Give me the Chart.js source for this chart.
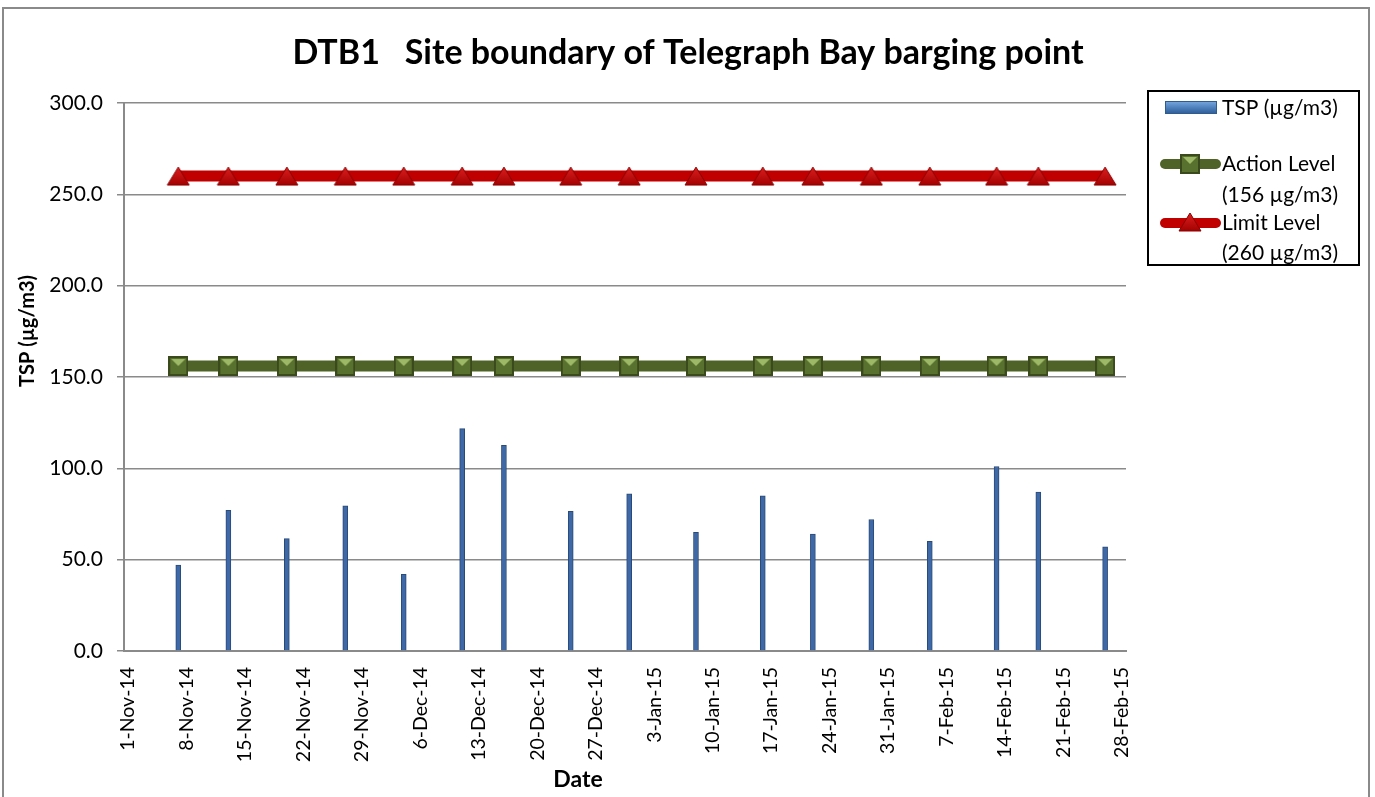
<!DOCTYPE html>
<html>
<head>
<meta charset="utf-8">
<script src="https://cdn.jsdelivr.net/npm/chart.js@4/dist/chart.umd.min.js"></script>
<style>
  html, body { margin: 0; padding: 0; background: #fff; }
  #wrap { width: 1375px; height: 797px; position: relative; }
</style>
</head>
<body>
<div id="wrap"><canvas id="myChart" width="1375" height="797"></canvas></div>
<script>
// sampling dates and TSP readings
var dates = ['2014-11-07','2014-11-13','2014-11-20','2014-11-27','2014-12-04','2014-12-11','2014-12-16',
  '2014-12-24','2014-12-31','2015-01-08','2015-01-16','2015-01-22','2015-01-29','2015-02-05',
  '2015-02-13','2015-02-18','2015-02-26'];
var tsp = [47, 77, 61.5, 79.5, 42, 121.7, 112.6, 76.5, 86, 65, 85, 64, 72, 60, 101, 87, 57];
var actionLevel = [156,156,156,156,156,156,156,156,156,156,156,156,156,156,156,156,156];
var limitLevel = [260,260,260,260,260,260,260,260,260,260,260,260,260,260,260,260,260];
var tickLabels = ['1-Nov-14','8-Nov-14','15-Nov-14','22-Nov-14','29-Nov-14','6-Dec-14','13-Dec-14',
  '20-Dec-14','27-Dec-14','3-Jan-15','10-Jan-15','17-Jan-15','24-Jan-15','31-Jan-15','7-Feb-15',
  '14-Feb-15','21-Feb-15','28-Feb-15'];
var yTicks = [0, 50, 100, 150, 200, 250, 300];

var FONT = 'Lato, "Open Sans", sans-serif';
var start = Date.UTC(2014, 10, 1);
function dayOf(s) {
  var p = s.split('-');
  return Math.round((Date.UTC(+p[0], +p[1] - 1, +p[2]) - start) / 86400000);
}
var days = dates.map(dayOf);
var pts = function (arr) { return days.map((d, i) => ({ x: d, y: arr[i] })); };

// marker images
function squareMarker() {
  var c = document.createElement('canvas'); c.width = 20; c.height = 20;
  var g = c.getContext('2d');
  g.fillStyle = '#3b4a1c'; g.fillRect(0, 0, 20, 20);
  g.fillStyle = '#58712e'; g.fillRect(2, 2, 16, 16);
  g.fillStyle = '#9db866';
  g.beginPath(); g.moveTo(3, 3); g.lineTo(17, 3); g.lineTo(10, 10); g.closePath(); g.fill();
  return c;
}
function triMarker() {
  var c = document.createElement('canvas'); c.width = 24; c.height = 20;
  var g = c.getContext('2d');
  var gr = g.createLinearGradient(0, 0, 0, 20);
  gr.addColorStop(0, '#e02020'); gr.addColorStop(1, '#a00000');
  g.fillStyle = gr; g.strokeStyle = '#8a0000'; g.lineWidth = 1;
  g.beginPath(); g.moveTo(12, 1); g.lineTo(23, 19); g.lineTo(1, 19); g.closePath(); g.fill(); g.stroke();
  return c;
}
var sq = squareMarker(), tri = triMarker();

var decor = {
  id: 'decor',
  afterDraw(chart) {
    var c = chart.ctx;
    c.save();
    // outer frame
    c.strokeStyle = '#8a8a8a'; c.lineWidth = 2;
    c.strokeRect(3, 8, 1366, 800);
    // title
    c.fillStyle = '#000'; c.textAlign = 'center'; c.textBaseline = 'middle';
    c.font = 'bold 34px ' + FONT;
    c.fillText('DTB1   Site boundary of Telegraph Bay barging point', 688, 53);
    // axis titles
    c.font = 'bold 23px ' + FONT;
    c.fillText('Date', 578, 780);
    c.font = 'bold 20px ' + FONT;
    c.save(); c.translate(28, 331); c.rotate(-Math.PI / 2);
    c.fillText('TSP (\u00b5g/m3)', 0, 0); c.restore();
    // legend
    c.strokeStyle = '#000'; c.lineWidth = 2;
    c.strokeRect(1148, 91, 211, 174);
    var g = c.createLinearGradient(0, 101, 0, 114);
    g.addColorStop(0, '#7aa9e0'); g.addColorStop(0.5, '#4f81bd'); g.addColorStop(1, '#2c5a94');
    c.fillStyle = g; c.fillRect(1165, 101, 52, 13);
    c.strokeStyle = '#2f5b8f'; c.lineWidth = 1; c.strokeRect(1165.5, 101.5, 51, 12);
    c.lineCap = 'round'; c.lineWidth = 10;
    c.strokeStyle = '#4f6228';
    c.beginPath(); c.moveTo(1165, 164); c.lineTo(1216, 164); c.stroke();
    c.drawImage(sq, 1180, 154);
    c.strokeStyle = '#c00000';
    c.beginPath(); c.moveTo(1165, 223); c.lineTo(1216, 223); c.stroke();
    c.drawImage(tri, 1178, 212);
    c.fillStyle = '#000'; c.textAlign = 'left'; c.font = '21px ' + FONT;
    c.fillText('TSP (\u00b5g/m3)', 1222, 108);
    c.fillText('Action Level', 1222, 164);
    c.fillText('(156 \u00b5g/m3)', 1222, 195);
    c.fillText('Limit Level', 1222, 223);
    c.fillText('(260 \u00b5g/m3)', 1222, 253);
    c.restore();
  }
};

new Chart(document.getElementById('myChart'), {
  type: 'bar',
  data: {
    datasets: [
      {
        type: 'line', label: 'Limit Level (260 \u00b5g/m3)', data: pts(limitLevel),
        borderColor: '#c00000', borderWidth: 11, pointStyle: tri, pointRadius: 10, order: 1
      },
      {
        type: 'line', label: 'Action Level (156 \u00b5g/m3)', data: pts(actionLevel),
        borderColor: '#4f6228', borderWidth: 11, pointStyle: sq, pointRadius: 10, order: 2
      },
      {
        label: 'TSP (\u00b5g/m3)', data: pts(tsp),
        backgroundColor: '#3e69a6', borderColor: '#2a4a78', borderWidth: 1,
        barThickness: 5, order: 3
      }
    ]
  },
  options: {
    responsive: false,
    animation: false,
    layout: { padding: { top: 103, right: 249, left: 0, bottom: 0 } },
    scales: {
      x: {
        type: 'linear', min: -0.5, max: 119.5, offset: false,
        afterBuildTicks: (s) => { s.ticks = tickLabels.map((t, i) => ({ value: i * 7 })); },
        afterFit: (s) => { s.height = 146; },
        grid: { display: false, drawTicks: false },
        border: { display: true, color: '#8a8a8a', width: 2 },
        ticks: {
          autoSkip: false, minRotation: 90, maxRotation: 90, padding: 16,
          color: '#000', font: { family: FONT, size: 19.5 },
          callback: (v) => tickLabels[v / 7]
        }
      },
      y: {
        min: 0, max: 300,
        afterBuildTicks: (s) => { s.ticks = yTicks.map((v) => ({ value: v })); },
        afterFit: (s) => { s.width = 124; },
        grid: { color: '#8a8a8a', lineWidth: 1.5, tickLength: 7 },
        border: { display: true, color: '#8a8a8a', width: 2 },
        ticks: {
          padding: 14, color: '#000', font: { family: FONT, size: 21 },
          callback: (v) => v.toFixed(1)
        }
      }
    },
    plugins: {
      legend: { display: false },
      tooltip: { enabled: false },
      title: { display: false }
    }
  },
  plugins: [decor]
});
</script>
</body>
</html>
